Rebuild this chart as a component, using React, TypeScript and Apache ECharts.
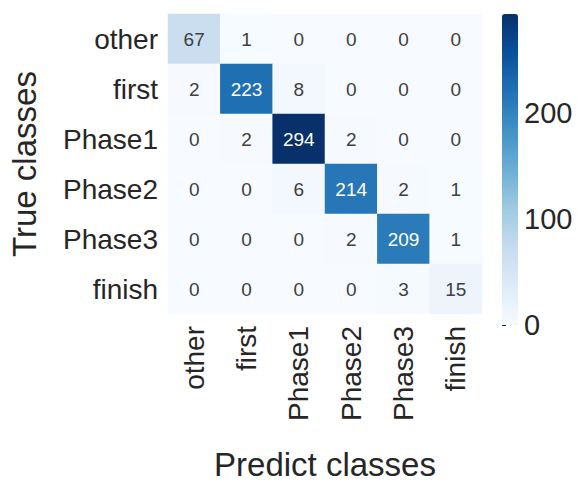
import React, { useEffect, useRef } from "react";
import * as echarts from "echarts";

// Class names, shared by both axes of the confusion matrix
const classes = ["other", "first", "Phase1", "Phase2", "Phase3", "finish"];

// Rows: true class, columns: predicted class
const matrix: number[][] = [
  [67, 1, 0, 0, 0, 0],
  [2, 223, 8, 0, 0, 0],
  [0, 2, 294, 2, 0, 0],
  [0, 0, 6, 214, 2, 1],
  [0, 0, 0, 2, 209, 1],
  [0, 0, 0, 0, 3, 15],
];

const colorbarMax = 294;
const colorbarTicks = [0, 100, 200];

// matplotlib "Blues" colormap stops
const blues = [
  "#f7fbff",
  "#deebf7",
  "#c6dbef",
  "#9ecae1",
  "#6baed6",
  "#4292c6",
  "#2171b5",
  "#08519c",
  "#08306b",
];

const FONT = "'Liberation Sans', Arial, Helvetica, sans-serif";
const TEXT = "#262626";

export default function App() {
  const ref = useRef<HTMLDivElement>(null);

  useEffect(() => {
    if (!ref.current) return;
    const chart = echarts.init(ref.current, undefined, { renderer: "svg" });

    const cells: any[] = [];
    matrix.forEach((row, r) =>
      row.forEach((v, c) => {
        cells.push({
          value: [c, r, v],
          label: { color: v > colorbarMax * 0.55 ? "#ffffff" : "#404040" },
        });
      })
    );

    const gridTop = 14;
    const gridH = 311;

    chart.setOption({
      animation: false,
      backgroundColor: "#ffffff",
      textStyle: { fontFamily: FONT },
      grid: [
        { left: 165, top: gridTop, width: 317, height: gridH },
        { left: 502, top: gridTop, width: 16, height: gridH },
      ],
      xAxis: [
        {
          type: "category",
          gridIndex: 0,
          data: classes,
          axisLine: { show: false },
          axisTick: { show: false },
          splitLine: { show: false },
          axisLabel: {
            rotate: 90,
            fontSize: 28,
            color: TEXT,
            fontFamily: FONT,
            margin: 12,
          },
          name: "Predict classes",
          nameLocation: "middle",
          nameGap: 134,
          nameTextStyle: { fontSize: 33, color: TEXT, fontFamily: FONT },
        },
        { type: "value", gridIndex: 1, show: false, min: 0, max: 1 },
      ],
      yAxis: [
        {
          type: "category",
          gridIndex: 0,
          data: classes,
          inverse: true,
          axisLine: { show: false },
          axisTick: { show: false },
          splitLine: { show: false },
          axisLabel: {
            fontSize: 28,
            color: TEXT,
            fontFamily: FONT,
            margin: 10,
          },
          name: "True classes",
          nameLocation: "middle",
          nameGap: 127,
          nameTextStyle: { fontSize: 33, color: TEXT, fontFamily: FONT },
        },
        {
          type: "value",
          gridIndex: 1,
          position: "right",
          min: 0,
          max: colorbarMax,
          interval: 100,
          axisLine: { show: false },
          axisTick: {
            show: true,
            length: 4,
            lineStyle: { color: TEXT, width: 1 },
            customValues: colorbarTicks,
          },
          splitLine: { show: false },
          axisLabel: {
            fontSize: 29,
            color: TEXT,
            fontFamily: FONT,
            margin: 6,
            customValues: colorbarTicks,
          },
        },
      ],
      visualMap: {
        type: "continuous",
        min: 0,
        max: colorbarMax,
        seriesIndex: 0,
        dimension: 2,
        orient: "vertical",
        left: 502,
        top: gridTop,
        itemWidth: 16,
        itemHeight: gridH,
        padding: 0,
        text: ["", ""],
        calculable: false,
        hoverLink: false,
        inRange: { color: blues },
      },
      series: [
        {
          type: "heatmap",
          xAxisIndex: 0,
          yAxisIndex: 0,
          data: cells,
          label: {
            show: true,
            fontSize: 19,
            fontFamily: FONT,
          },
          itemStyle: { borderWidth: 0 },
          emphasis: { disabled: true },
        },
        {
          type: "scatter",
          xAxisIndex: 1,
          yAxisIndex: 1,
          data: [],
          silent: true,
        },
      ],
    });

    return () => chart.dispose();
  }, []);

  return (
    <div
      ref={ref}
      style={{ position: "fixed", left: 0, top: 0, width: 578, height: 486 }}
    />
  );
}
